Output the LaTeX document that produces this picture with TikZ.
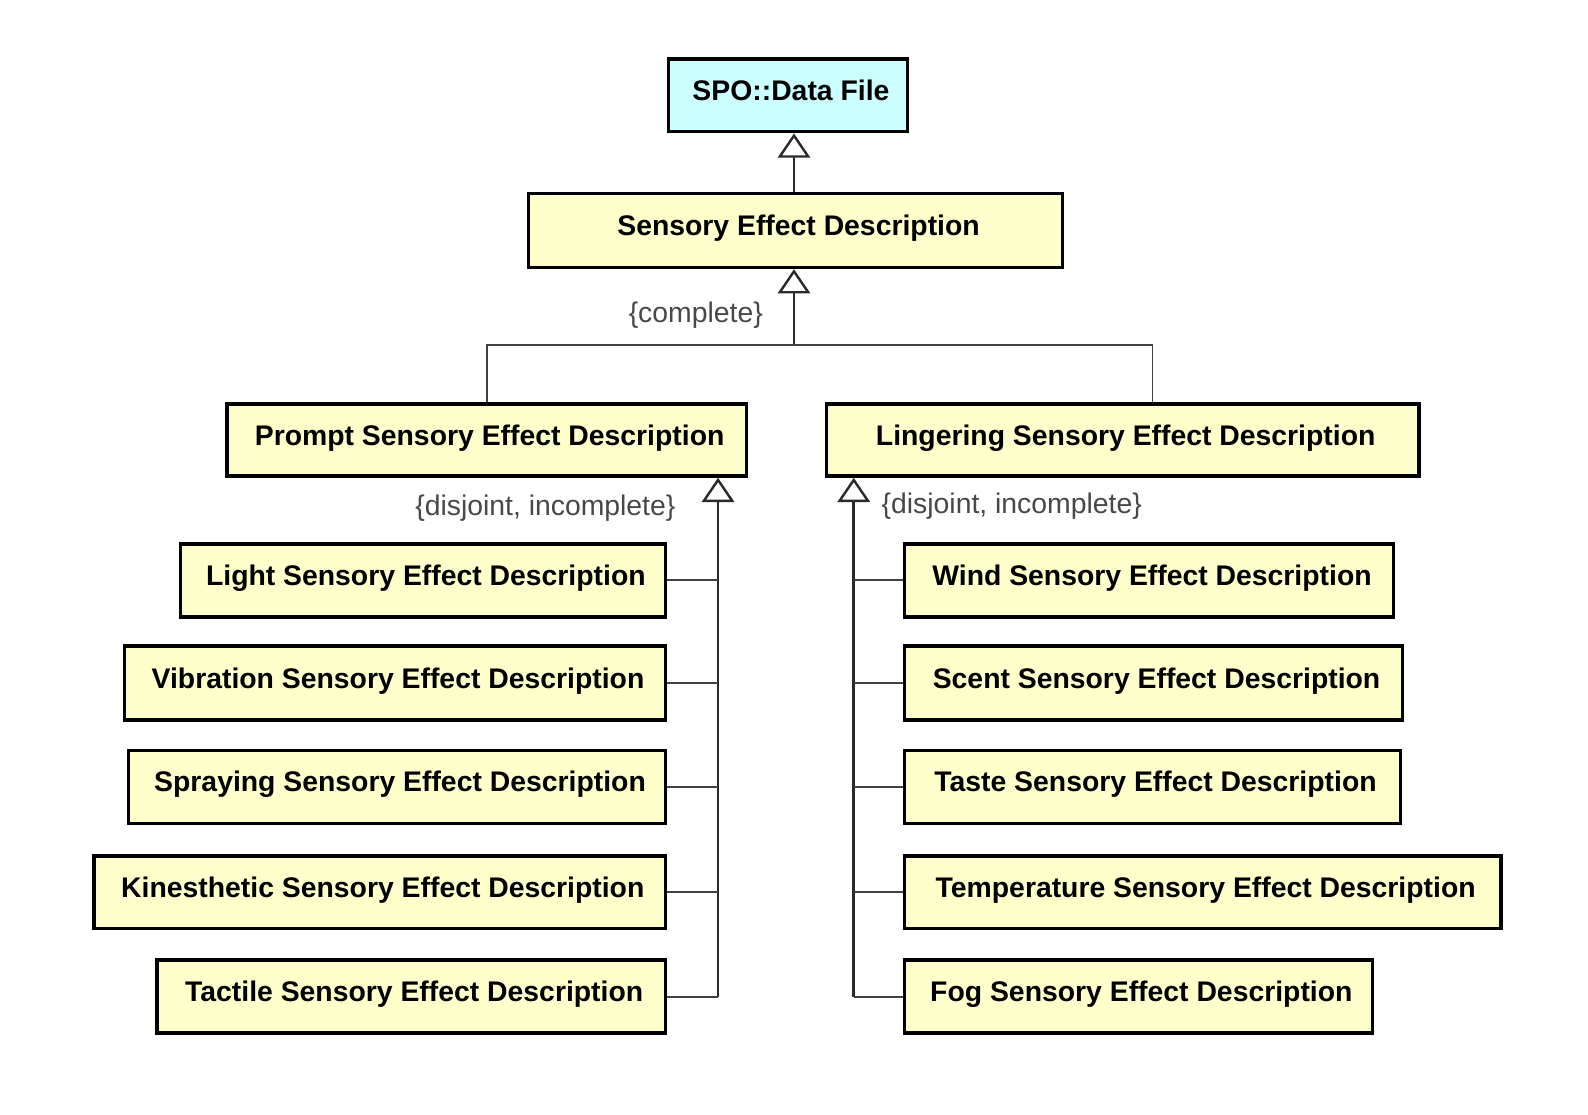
\documentclass[tikz,border=0pt]{standalone}
\usepackage{fontspec}
\setmainfont{Liberation Sans}
\usetikzlibrary{arrows.meta,calc}
\definecolor{boxyellow}{HTML}{FFFFCC}
\definecolor{boxcyan}{HTML}{CCFFFF}
\definecolor{linegray}{HTML}{404040}
\definecolor{trunkgray}{HTML}{2A2A2A}
\definecolor{labelgray}{HTML}{484848}
\begin{document}
\begin{tikzpicture}[x=1pt,y=-1pt,
  cls/.style={draw=black,line width=3.5pt,fill=boxyellow,inner sep=0pt,
    font=\fontsize{28}{32}\selectfont\bfseries,text height=22pt,text depth=12pt,
    execute at begin node={\hspace*{6pt}}},
  conn/.style={draw=linegray,line width=1.9pt},
  gen/.style={draw=trunkgray,line width=2.6pt,-{Triangle[length=24pt,width=32pt,fill=white,line width=2.4pt]}},
  lbl/.style={font=\fontsize{28}{32}\selectfont,text=labelgray,inner sep=0pt}]
\useasboundingbox (0,0) rectangle (1568,1100);
% classes
\node[cls,fill=boxcyan,minimum width=236pt,minimum height=72pt] (spo) at (778,94) {SPO::Data File};
\node[cls,minimum width=527pt,minimum height=73pt] (sed) at (785.5,227.5) {Sensory Effect Description};
\node[cls,minimum width=513pt,minimum height=71pt] (prompt) at (480.5,434.5) {Prompt Sensory Effect Description};
\node[cls,minimum width=585pt,minimum height=71pt] (ling) at (1108.5,434.5) {Lingering Sensory Effect Description};
\node[cls,minimum width=479pt,minimum height=72pt] (light) at (417.5,573) {Light Sensory Effect Description};
\node[cls,minimum width=534pt,minimum height=73pt] (vib) at (390,674.5) {Vibration Sensory Effect Description};
\node[cls,minimum width=530pt,minimum height=72pt] (spray) at (392,777) {Spraying Sensory Effect Description};
\node[cls,minimum width=564pt,minimum height=72pt] (kin) at (375,881) {Kinesthetic Sensory Effect Description};
\node[cls,minimum width=502pt,minimum height=72pt] (tact) at (406,984) {Tactile Sensory Effect Description};
\node[cls,minimum width=483pt,minimum height=72pt] (wind) at (1134.5,573) {Wind Sensory Effect Description};
\node[cls,minimum width=492pt,minimum height=73pt] (scent) at (1139,674.5) {Scent Sensory Effect Description};
\node[cls,minimum width=490pt,minimum height=72pt] (taste) at (1138,777) {Taste Sensory Effect Description};
\node[cls,minimum width=589pt,minimum height=72pt] (temp) at (1187.5,881) {Temperature Sensory Effect Description};
\node[cls,minimum width=462pt,minimum height=72pt] (fog) at (1124,984) {Fog Sensory Effect Description};
% labels
\node[lbl] (complete) at (687,311) {\{complete\}};
\node[lbl] (disjL) at (538.5,502) {\{disjoint, incomplete\}};
\node[lbl] (disjR) at (999,500) {\{disjoint, incomplete\}};
% generalisation SED -> SPO
\draw[gen] ([xshift=-1.5pt]sed.north) -- ([xshift=-1.5pt]sed.north |- spo.south);
% complete generalisation
\coordinate (bus) at ([xshift=-1.5pt]sed.south |- 0,341);
\coordinate (lingtop) at ([xshift=29.5pt]ling.north);
\draw[gen] (bus) -- (bus |- sed.south);
\draw[conn] (prompt.north) |- (bus) -| (lingtop);
% prompt subclasses
\coordinate (ptop) at (prompt.south -| 709,0);
\coordinate (pbot) at (tact.east -| ptop);
\draw[gen] (pbot) -- (ptop);
\draw[conn] (tact.east) -- (pbot);
\draw[conn] (light.east) -- (light.east -| ptop);
\draw[conn] (vib.east) -- (vib.east -| ptop);
\draw[conn] (spray.east) -- (spray.east -| ptop);
\draw[conn] (kin.east) -- (kin.east -| ptop);
% lingering subclasses
\coordinate (ltop) at (ling.south -| 843,0);
\coordinate (lbot) at (fog.west -| ltop);
\draw[gen] (lbot) -- (ltop);
\draw[conn] (fog.west) -- (lbot);
\draw[conn] (wind.west) -- (wind.west -| ltop);
\draw[conn] (scent.west) -- (scent.west -| ltop);
\draw[conn] (taste.west) -- (taste.west -| ltop);
\draw[conn] (temp.west) -- (temp.west -| ltop);
\end{tikzpicture}
\end{document}
